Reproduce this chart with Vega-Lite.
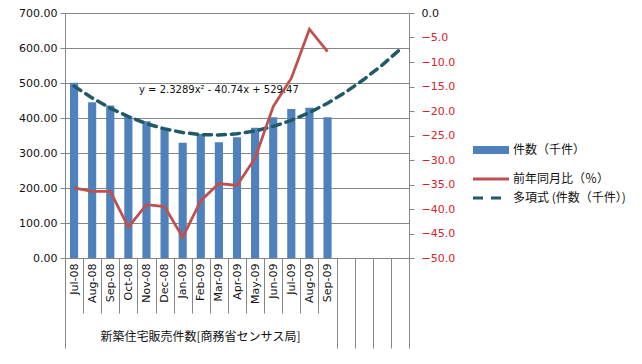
{
  "$schema": "https://vega.github.io/schema/vega-lite/v6.json",
  "width": 344,
  "height": 245,
  "autosize": {"type": "none"},
  "padding": {"left": 65, "top": 13, "right": 233, "bottom": 106},
  "background": "white",
  "config": {
    "view": {"stroke": null},
    "font": "DejaVu Sans",
    "axis": {"labelFont": "DejaVu Sans", "labelFontSize": 11, "labelColor": "#111", "domainColor": "#868686", "tickColor": "#868686", "gridColor": "#868686", "titleFont": "Noto Sans CJK JP"}
  },
  "datasets": {
    "main": [
      {"m": "Jul-08", "cnt": 501, "yoy": -35.7},
      {"m": "Aug-08", "cnt": 445, "yoy": -36.4},
      {"m": "Sep-08", "cnt": 436, "yoy": -36.4},
      {"m": "Oct-08", "cnt": 405, "yoy": -43.7},
      {"m": "Nov-08", "cnt": 391, "yoy": -39.1},
      {"m": "Dec-08", "cnt": 372, "yoy": -39.5},
      {"m": "Jan-09", "cnt": 329, "yoy": -45.8},
      {"m": "Feb-09", "cnt": 354, "yoy": -38.3},
      {"m": "Mar-09", "cnt": 331, "yoy": -34.8},
      {"m": "Apr-09", "cnt": 345, "yoy": -35.2},
      {"m": "May-09", "cnt": 372, "yoy": -29.6},
      {"m": "Jun-09", "cnt": 402, "yoy": -19.1},
      {"m": "Jul-09", "cnt": 426, "yoy": -13.3},
      {"m": "Aug-09", "cnt": 429, "yoy": -3.3},
      {"m": "Sep-09", "cnt": 402, "yoy": -7.9}
    ],
    "trend": [
      {"m": "Jul-08", "t": 491.06},
      {"m": "Aug-08", "t": 457.31},
      {"m": "Sep-08", "t": 428.21},
      {"m": "Oct-08", "t": 403.77},
      {"m": "Nov-08", "t": 383.99},
      {"m": "Dec-08", "t": 368.87},
      {"m": "Jan-09", "t": 358.41},
      {"m": "Feb-09", "t": 352.60},
      {"m": "Mar-09", "t": 351.45},
      {"m": "Apr-09", "t": 354.96},
      {"m": "May-09", "t": 363.13},
      {"m": "Jun-09", "t": 375.95},
      {"m": "Jul-09", "t": 393.43},
      {"m": "Aug-09", "t": 415.57},
      {"m": "Sep-09", "t": 442.29},
      {"m": "e1", "t": 473.83},
      {"m": "e2", "t": 509.94},
      {"m": "e3", "t": 550.63},
      {"m": "e4", "t": 595.90}
    ],
    "label": [
      {"eq": "y = 2.3289x² - 40.74x + 529.47"}
    ]
  },
  "resolve": {"scale": {"y": "independent"}, "axis": {"x": "independent", "y": "independent"}},
  "layer": [
    {
      "data": {"name": "main"},
      "mark": {"type": "bar", "width": {"band": 0.45}},
      "encoding": {
        "x": {
          "field": "m", "type": "nominal", "sort": null,
          "scale": {"domain": ["Jul-08","Aug-08","Sep-08","Oct-08","Nov-08","Dec-08","Jan-09","Feb-09","Mar-09","Apr-09","May-09","Jun-09","Jul-09","Aug-09","Sep-09","e1","e2","e3","e4"], "paddingInner": 0, "paddingOuter": 0},
          "axis": {
            "orient": "bottom",
            "values": ["Jul-08","Aug-08","Sep-08","Oct-08","Nov-08","Dec-08","Jan-09","Feb-09","Mar-09","Apr-09","May-09","Jun-09","Jul-09","Aug-09","Sep-09"],
            "tickBand": "extent", "tickSize": 55, "labelAngle": 270, "labelPadding": -50,
            "labelAlign": "right", "labelBaseline": "middle", "domain": true, "title": null, "grid": false
          }
        },
        "y": {
          "field": "cnt", "type": "quantitative",
          "scale": {"domain": [0, 700], "nice": false},
          "axis": {"orient": "left", "values": [0,100,200,300,400,500,600,700], "format": ".2f", "tickSize": 5, "labelPadding": 3, "grid": true, "title": null}
        },
        "color": {"datum": "件数（千件）", "type": "nominal",
          "scale": {"domain": ["件数（千件）", "前年同月比（％）", "多項式 (件数（千件）)"], "range": ["#4f81bd", "#c0504d", "#215968"]},
          "legend": {
            "orient": "none", "legendX": 420, "legendY": 131, "title": null,
            "symbolType": "stroke", "symbolSize": 1296, "rowPadding": 7,
            "labelFont": "Noto Sans CJK JP", "labelFontSize": 12, "labelColor": "#111", "labelOffset": 16,
            "encode": {"symbols": {"update": {
              "stroke": {"signal": "scale('color', datum.value)"},
              "fill": {"value": "transparent"},
              "strokeWidth": {"signal": "datum.value === '件数（千件）' ? 8 : 3"},
              "strokeDash": {"signal": "datum.value === '多項式 (件数（千件）)' ? [10, 8] : []"},
              "opacity": {"value": 1}
            }}}
          }
        }
      }
    },
    {
      "data": {"name": "trend"},
      "mark": {"type": "line", "strokeWidth": 3.5, "strokeDash": [8, 6], "strokeCap": "round"},
      "encoding": {
        "x": {"field": "m", "type": "nominal", "sort": null,
          "axis": {"orient": "bottom", "values": ["e1","e2","e3","e4"], "tickBand": "extent", "tickSize": 90, "labels": false, "domain": false, "title": null, "grid": false}},
        "y": {"field": "t", "type": "quantitative", "scale": {"domain": [0, 700], "nice": false}, "axis": null},
        "color": {"datum": "多項式 (件数（千件）)", "type": "nominal"}
      }
    },
    {
      "data": {"name": "main"},
      "mark": {"type": "line", "strokeWidth": 2.75},
      "encoding": {
        "x": {"field": "m", "type": "nominal", "sort": null,
          "axis": {"orient": "bottom", "values": ["Jul-08"], "bandPosition": 0, "tickSize": 90, "labels": false, "domain": false, "grid": false,
            "title": "新築住宅販売件数[商務省センサス局]", "titleFont": "Noto Sans CJK JP", "titleFontSize": 12, "titleFontWeight": "normal", "titleColor": "#111",
            "titleX": 135, "titleY": 78, "titleAlign": "center", "titleBaseline": "middle", "titleAngle": 0}},
        "y": {"field": "yoy", "type": "quantitative", "scale": {"domain": [-50, 0], "nice": false},
          "axis": {"orient": "right", "values": [-50,-45,-40,-35,-30,-25,-20,-15,-10,-5,0], "format": ".1f", "tickSize": 5, "labelPadding": 7, "grid": false, "title": null,
            "labelColor": {"expr": "datum.value < 0 ? '#d8232a' : '#111'"}}},
        "color": {"datum": "前年同月比（％）", "type": "nominal"}
      }
    },
    {
      "data": {"name": "label"},
      "mark": {"type": "text", "fontSize": 10, "font": "DejaVu Sans", "color": "#111", "align": "center", "baseline": "middle"},
      "encoding": {
        "x": {"datum": "Mar-09", "type": "nominal", "axis": null},
        "y": {"datum": 480, "type": "quantitative", "scale": {"domain": [0, 700], "nice": false}, "axis": null},
        "text": {"field": "eq", "type": "nominal"}
      }
    }
  ]
}
